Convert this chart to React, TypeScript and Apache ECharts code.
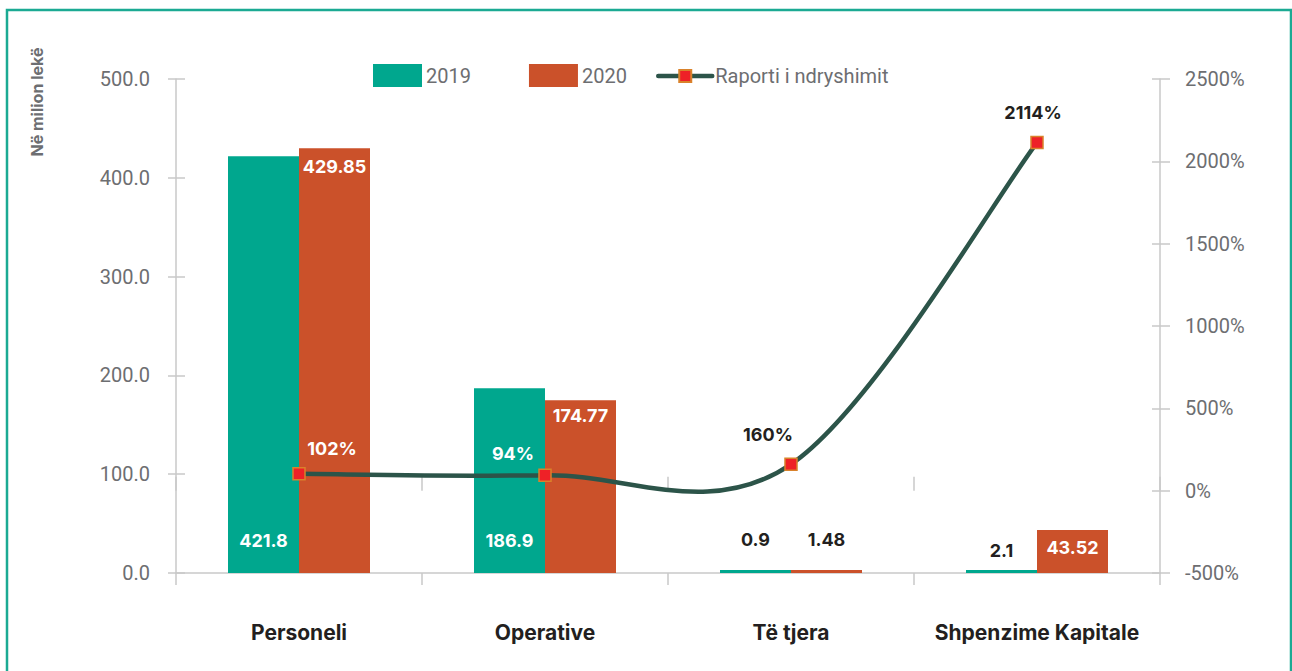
import React, { useEffect, useRef } from "react";
import * as echarts from "echarts";

const categories = ["Personeli", "Operative", "Të tjera", "Shpenzime Kapitale"];
const values2019 = [421.8, 186.9, 0.9, 2.1];
const values2020 = [429.85, 174.77, 1.48, 43.52];
const ratioValues = [102, 94, 160, 2114];
const leftTicks = { min: 0, max: 500, interval: 100 };
const rightTicks = { min: -500, max: 2500, interval: 500 };

const TEAL = "#00A78E";
const ORANGE = "#CB512A";
const LINE = "#2C5449";
const DARK = "#231F20";
const GRAY = "#6D6E71";
const AXIS = "#C9C9C9";
const NARROW = "Roboto, 'DejaVu Sans Condensed', sans-serif";
const BOLD = "Inter, 'Open Sans', sans-serif";

function catmullPath(pts: number[][]): string {
  let d = `M${pts[0][0]},${pts[0][1]}`;
  for (let i = 0; i < pts.length - 1; i++) {
    const p0 = pts[Math.max(0, i - 1)];
    const p1 = pts[i];
    const p2 = pts[i + 1];
    const p3 = pts[Math.min(pts.length - 1, i + 2)];
    const c1x = p1[0] + (p2[0] - p0[0]) / 6;
    const c1y = p1[1] + (p2[1] - p0[1]) / 6;
    const c2x = p2[0] - (p3[0] - p1[0]) / 6;
    const c2y = p2[1] - (p3[1] - p1[1]) / 6;
    d += ` C${c1x},${c1y} ${c2x},${c2y} ${p2[0]},${p2[1]}`;
  }
  return d;
}

export default function App() {
  const ref = useRef<HTMLDivElement>(null);
  useEffect(() => {
    if (!ref.current) return;
    const chart = echarts.init(ref.current, undefined, { renderer: "svg" });
    const valLabel = { fontFamily: BOLD, fontWeight: "bold", fontSize: 18 };
    const lab2019 = [
      { position: "insideBottom", distance: 24, color: "#fff" },
      { position: "insideBottom", distance: 24, color: "#fff" },
      { position: "top", distance: 22, color: DARK },
      { position: "top", distance: 11, color: DARK },
    ];
    const lab2020 = [
      { position: "insideTop", distance: 9, color: "#fff" },
      { position: "insideTop", distance: 6, color: "#fff" },
      { position: "top", distance: 22, color: DARK },
      { position: "insideTop", distance: 8, color: "#fff" },
    ];
    const labRatio = [
      { offset: [33, 0], color: "#fff" },
      { offset: [-32, 4], color: "#fff" },
      { offset: [-23, -4], color: DARK },
      { offset: [-4, -4], color: DARK },
    ];
    const catAxisBase = {
      type: "category",
      data: categories,
      position: "bottom",
      gridIndex: 0,
    };
    chart.setOption({
      animation: false,
      grid: { left: 176, right: 132, top: 79, bottom: 98, containLabel: false },
      legend: [
        {
          data: ["2019", "2020"],
          left: 368,
          top: 59,
          itemWidth: 49,
          itemHeight: 23,
          itemGap: 58,
          icon: "rect",
          textStyle: { fontFamily: NARROW, fontSize: 20, color: GRAY, padding: [0, 0, 0, -1] },
        },
        {
          data: [
            {
              name: "Raporti i ndryshimit",
              lineStyle: { color: LINE, width: 4.5, opacity: 1, cap: "round" },
            },
          ],
          left: 651,
          top: 61,
          itemWidth: 54,
          itemHeight: 15,
          textStyle: { fontFamily: NARROW, fontSize: 20, color: GRAY, padding: [0, 0, 0, -2] },
        },
      ],
      xAxis: [
        {
          ...catAxisBase,
          axisLine: { show: true, lineStyle: { color: AXIS, width: 1.5 } },
          axisTick: { show: true, interval: 0, length: 12, lineStyle: { color: AXIS, width: 1.5 } },
          axisLabel: {
            interval: 0,
            margin: 49,
            fontFamily: BOLD,
            fontWeight: "bold",
            fontSize: 21,
            color: DARK,
          },
        },
        {
          ...catAxisBase,
          axisLine: { show: false },
          axisTick: { show: true, interval: 0, inside: true, length: 14, lineStyle: { color: AXIS, width: 1.5 } },
          axisLabel: { show: false, interval: 0 },
        },
      ],
      yAxis: [
        {
          type: "value",
          position: "left",
          ...leftTicks,
          axisLine: { show: true, lineStyle: { color: AXIS, width: 1.5 } },
          axisTick: { show: true, length: 8, lineStyle: { color: AXIS, width: 1.5 } },
          splitLine: { show: false },
          axisLabel: {
            margin: 26,
            fontFamily: NARROW,
            fontSize: 20,
            color: GRAY,
            formatter: (v: number) => v.toFixed(1),
          },
        },
        {
          type: "value",
          position: "right",
          ...rightTicks,
          axisLine: { show: true, lineStyle: { color: AXIS, width: 1.5 } },
          axisTick: { show: true, length: 10, lineStyle: { color: AXIS, width: 1.5 } },
          splitLine: { show: false },
          axisLabel: {
            margin: 25,
            fontFamily: NARROW,
            fontSize: 20,
            color: GRAY,
            formatter: (v: number) => v + "%",
          },
        },
        {
          type: "value",
          position: "left",
          ...leftTicks,
          axisLine: { show: false },
          axisTick: { show: true, inside: true, length: 9, lineStyle: { color: AXIS, width: 1.5 } },
          splitLine: { show: false },
          axisLabel: { show: false },
        },
        {
          type: "value",
          position: "right",
          ...rightTicks,
          axisLine: { show: false },
          axisTick: { show: true, inside: true, length: 8, lineStyle: { color: AXIS, width: 1.5 } },
          splitLine: { show: false },
          axisLabel: { show: false },
        },
      ],
      graphic: [
        {
          type: "rect",
          shape: { x: 7, y: 10, width: 1284, height: 680 },
          style: { fill: "none", stroke: "#1BAA93", lineWidth: 2.5 },
          silent: true,
        },
        {
          type: "text",
          x: 37,
          y: 102,
          rotation: Math.PI / 2,
          style: {
            text: "Në milion lekë",
            fontFamily: BOLD,
            fontWeight: "bold",
            fontSize: 16,
            fill: GRAY,
            align: "center",
            verticalAlign: "middle",
          },
        },
      ],
      series: [
        {
          name: "2019",
          type: "bar",
          xAxisIndex: 0,
          yAxisIndex: 0,
          barWidth: 71,
          barGap: "0%",
          barMinHeight: 3,
          itemStyle: { color: TEAL },
          data: values2019.map((v, i) => ({ value: v, label: { show: true, ...valLabel, ...lab2019[i] } })),
        },
        {
          name: "2020",
          type: "bar",
          xAxisIndex: 0,
          yAxisIndex: 0,
          barWidth: 71,
          barGap: "0%",
          barMinHeight: 3,
          itemStyle: { color: ORANGE },
          data: values2020.map((v, i) => ({ value: v, label: { show: true, ...valLabel, ...lab2020[i] } })),
        },
        {
          name: "curve",
          type: "custom",
          xAxisIndex: 0,
          yAxisIndex: 1,
          z: 5,
          silent: true,
          data: ratioValues.map((v, i) => [i, v]),
          renderItem: (params: any, api: any) => {
            if (params.dataIndex !== 0) return { type: "group", children: [] };
            const pts = ratioValues.map((v, i) => api.coord([i, v]));
            return {
              type: "path",
              shape: { pathData: catmullPath(pts) },
              style: { fill: "none", stroke: LINE, lineWidth: 4.5, lineCap: "round" },
            };
          },
        },
        {
          name: "Raporti i ndryshimit",
          type: "line",
          xAxisIndex: 0,
          yAxisIndex: 1,
          z: 6,
          symbol: "rect",
          symbolSize: 12,
          lineStyle: { color: LINE, width: 4.5, opacity: 0 },
          itemStyle: { color: "#EE2127", borderColor: "#D9822B", borderWidth: 1.5 },
          data: ratioValues.map((v, i) => ({
            value: v,
            label: {
              show: true,
              position: "top",
              distance: 10,
              formatter: (p: any) => p.value + "%",
              ...valLabel,
              ...labRatio[i],
            },
          })),
        },
      ],
    });
    return () => chart.dispose();
  }, []);
  return (
    <div
      ref={ref}
      style={{ position: "fixed", left: 0, top: 0, width: 1292, height: 671, background: "#fff" }}
    />
  );
}
